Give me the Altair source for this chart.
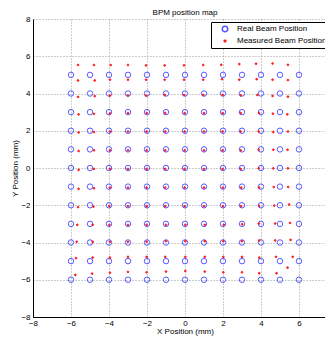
import altair as alt
import pandas as pd

# Real beam grid positions (mm)
real_x = [-6, -5, -4, -3, -2, -1, 0, 1, 2, 3, 4, 5, 6]
real_y = [5, 4, 3, 2, 1, 0, -1, -2, -3, -4, -5, -6]

# Measured beam positions, one row per real y (6 .. -6), columns real x -6 .. 6
meas_x = [
    [-5.63, -4.79, -3.91, -3.00, -2.05, -1.07, -0.05, 0.96, 1.91, 2.86, 3.74, 4.61, 5.42],
    [-5.63, -4.75, -3.95, -3.00, -2.05, -1.07, -0.05, 0.96, 1.95, 2.86, 3.77, 4.61, 5.42],
    [-5.63, -4.75, -3.95, -3.00, -2.05, -1.07, -0.05, 0.96, 1.98, 2.93, 3.81, 4.61, 5.42],
    [-5.60, -4.79, -3.95, -3.00, -2.02, -1.04, -0.02, 1.00, 1.98, 2.93, 3.90, 4.63, 5.39],
    [-5.60, -4.79, -3.95, -3.00, -2.02, -1.04, -0.02, 1.00, 1.98, 2.93, 3.88, 4.65, 5.42],
    [-5.60, -4.79, -3.95, -3.00, -2.02, -1.04, -0.02, 1.00, 1.98, 2.93, 3.88, 4.65, 5.40],
    [-5.60, -4.79, -3.95, -3.00, -2.02, -1.04, -0.02, 1.00, 1.98, 2.93, 3.88, 4.65, 5.42],
    [-5.60, -4.79, -3.95, -3.00, -2.02, -1.04, -0.02, 1.00, 2.00, 2.96, 3.90, 4.67, 5.43],
    [-5.63, -4.82, -3.98, -3.00, -2.02, -1.04, -0.02, 1.00, 2.00, 2.95, 3.90, 4.70, 5.48],
    [-5.67, -4.86, -3.98, -3.00, -2.02, -1.00, 0.02, 1.04, 2.04, 3.01, 3.89, 4.75, 5.53],
    [-5.70, -4.86, -3.95, -3.00, -2.02, -1.00, 0.02, 1.04, 2.02, 3.00, 3.91, 4.75, 5.56],
    [-5.74, -4.86, -3.95, -3.00, -2.02, -1.04, 0.02, 1.04, 2.02, 3.00, 3.91, 4.79, 5.67],
    [-5.77, -4.89, -3.95, -3.00, -2.02, -1.00, 0.02, 1.04, 2.02, 3.00, 3.91, 4.82, 5.40],
]
meas_y = [
    [5.53, 5.53, 5.53, 5.53, 5.51, 5.51, 5.51, 5.53, 5.54, 5.58, 5.60, 5.61, 5.54],
    [4.70, 4.70, 4.74, 4.74, 4.74, 4.74, 4.74, 4.74, 4.77, 4.74, 4.77, 4.74, 4.72],
    [3.82, 3.86, 3.89, 3.89, 3.89, 3.92, 3.92, 3.92, 3.92, 3.90, 3.92, 3.87, 3.83],
    [2.88, 2.91, 2.93, 2.95, 2.95, 2.95, 2.95, 2.95, 2.95, 2.95, 2.95, 2.92, 2.88],
    [1.91, 1.93, 1.96, 1.96, 1.96, 1.96, 1.96, 1.96, 1.96, 1.96, 1.96, 1.93, 1.96],
    [0.91, 0.95, 0.95, 0.95, 0.95, 0.95, 0.95, 0.95, 0.95, 0.95, 0.98, 0.98, 0.98],
    [-0.10, -0.05, -0.05, -0.05, -0.05, -0.05, -0.05, -0.05, -0.05, -0.05, -0.02, -0.02, -0.02],
    [-1.12, -1.09, -1.05, -1.05, -1.05, -1.05, -1.05, -1.05, -1.05, -1.05, -1.05, -1.02, -1.02],
    [-2.10, -2.07, -2.04, -2.05, -2.05, -2.05, -2.05, -2.05, -2.05, -2.05, -2.04, -2.02, -1.96],
    [-3.05, -3.05, -3.05, -3.05, -3.05, -3.05, -3.05, -3.05, -3.05, -3.02, -2.98, -2.98, -2.95],
    [-3.96, -3.96, -3.96, -3.96, -3.96, -3.93, -3.93, -3.93, -3.93, -3.93, -3.89, -3.89, -3.86],
    [-4.84, -4.81, -4.81, -4.77, -4.77, -4.77, -4.77, -4.77, -4.77, -4.77, -4.81, -4.77, -4.77],
    [-5.74, -5.67, -5.62, -5.58, -5.60, -5.56, -5.53, -5.56, -5.60, -5.60, -5.65, -5.65, -5.35],
]

series = ["Real Beam Position", "Measured Beam Position"]
axis_ticks = [-8, -6, -4, -2, 0, 2, 4, 6, 8]

rows = []
for yv in real_y:
    for xv in real_x:
        rows.append({"x": xv, "y": yv, "series": series[0]})
for rx, ry in zip(meas_x, meas_y):
    for xv, yv in zip(rx, ry):
        rows.append({"x": xv, "y": yv, "series": series[1]})
df = pd.DataFrame(rows)

FONT = "Liberation Sans"
legend = alt.Legend(title=None, orient="none", legendX=178, legendY=3,
                    symbolOffset=7, labelOffset=8)

chart = alt.Chart(df).mark_point(opacity=1, strokeWidth=1, clip=True).encode(
    x=alt.X("x:Q",
            scale=alt.Scale(domain=[-8, 7.37], nice=False, zero=False),
            axis=alt.Axis(values=axis_ticks[:-1], title="X Position (mm)",
                          titleX=152, titleY=14, titleBaseline="middle",
                          labelPadding=2)),
    y=alt.Y("y:Q",
            scale=alt.Scale(domain=[-8, 8], nice=False, zero=False),
            axis=alt.Axis(values=axis_ticks, title="Y Position (mm)",
                          titleX=-18, titleY=149, titleAngle=270,
                          titleBaseline="middle", titleAlign="center",
                          labelPadding=3)),
    color=alt.Color("series:N", scale=alt.Scale(domain=series, range=["#5a5aff", "#ff1a1a"]),
                    legend=legend),
    fill=alt.Fill("series:N", scale=alt.Scale(domain=series, range=["transparent", "#ff1a1a"]),
                  legend=legend),
    size=alt.Size("series:N", scale=alt.Scale(domain=series, range=[30, 3]),
                  legend=legend),
).properties(
    width=292,
    height=298,
    padding={"left": 25, "top": 11, "right": 0, "bottom": 19},
    autosize=alt.AutoSizeParams(type="none"),
    title=alt.TitleParams("BPM position map", fontSize=8, font=FONT, fontWeight="normal",
                          color="black", anchor="middle", baseline="bottom", offset=0,
                          dx=6, dy=10),
).configure_view(
    strokeWidth=0
).configure_axis(
    labelFont=FONT, labelFontSize=8, labelColor="black", labelFlush=False,
    titleFont=FONT, titleFontSize=8, titleFontWeight="normal", titleColor="black",
    domainColor="black", domainWidth=1, ticks=False,
    grid=True, gridColor="#9a9a9a", gridDash=[1, 2], gridWidth=1,
).configure_legend(
    fillColor="white", strokeColor="black", padding=3, rowPadding=2,
    labelFont=FONT, labelFontSize=8, labelColor="black", labelLimit=300,
)

chart.save("out.html", embed_options={"renderer": "svg", "actions": False})
